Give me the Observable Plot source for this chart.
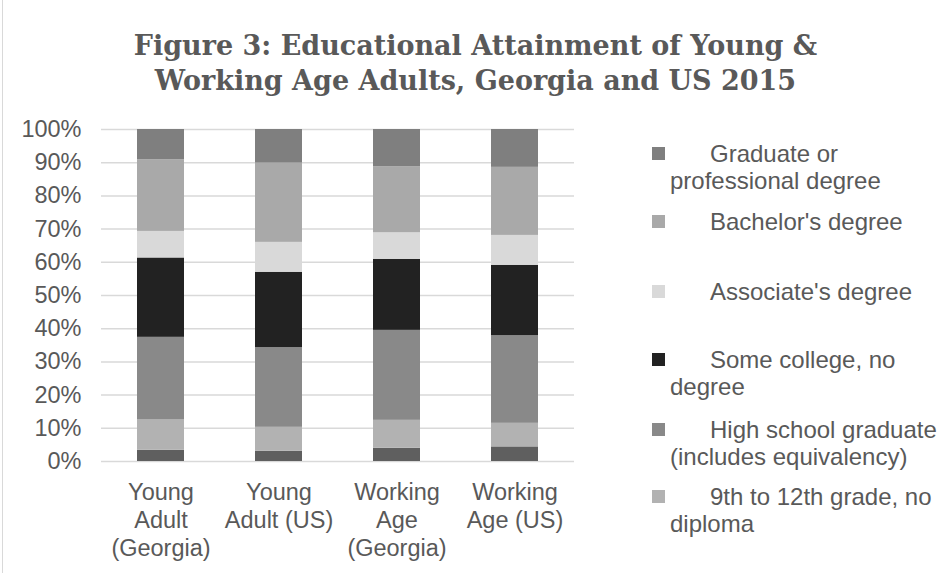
<!DOCTYPE html>
<html>
<head>
<meta charset="utf-8">
<script src="https://cdn.jsdelivr.net/npm/d3@7"></script>
<script src="https://cdn.jsdelivr.net/npm/@observablehq/plot@0.6"></script>
<style>
  html, body { margin: 0; padding: 0; background: #fff; }
  #wrap { position: relative; width: 951px; height: 573px; overflow: hidden; background: #fff;
          font-family: "Liberation Sans", Arial, sans-serif; }
  #border { position: absolute; left: 2px; top: 0; width: 1px; height: 573px; background: #d9d9d9; }
  #title { position: absolute; left: 0; width: 951px; top: 28px; text-align: center;
           font-family: "DejaVu Serif", serif; font-weight: bold; font-size: 27px; line-height: 35px;
           color: #595959; white-space: nowrap; }
  #chart { position: absolute; left: 0; top: 110px; }
  #legend { position: absolute; left: 652px; top: 0; width: 300px; font-size: 24px; color: #595959; }
  .item { position: absolute; left: 0; width: 300px; line-height: 27px; }
  .sw { position: absolute; left: 0; width: 13px; height: 13px; }
  .txt { padding-left: 18px; text-indent: 40px; white-space: nowrap; }
</style>
</head>
<body>
<div id="wrap">
  <div id="border"></div>
  <div id="title">Figure 3: Educational Attainment of Young &amp;<br>Working Age Adults, Georgia and US 2015</div>
  <div id="chart"></div>
  <div id="legend"></div>
</div>
<script>
const groups = ["Young Adult (Georgia)", "Young Adult (US)", "Working Age (Georgia)", "Working Age (US)"];
const groupLabels = ["Young\nAdult\n(Georgia)", "Young\nAdult (US)", "Working\nAge\n(Georgia)", "Working\nAge (US)"];
const levels = ["Less than 9th grade", "9th to 12th grade, no diploma", "High school graduate (includes equivalency)",
                "Some college, no degree", "Associate's degree", "Bachelor's degree", "Graduate or professional degree"];
const colors = ["#5f5f5f", "#b2b2b2", "#898989", "#222222", "#d9d9d9", "#a9a9a9", "#7f7f7f"];
const lessThan9th = [3.4, 3.1, 4.0, 4.4];
const grade9to12 = [9.1, 7.2, 8.4, 7.1];
const highSchool = [24.9, 24.0, 27.1, 26.4];
const someCollege = [23.9, 22.7, 21.4, 21.2];
const associate = [8.0, 9.0, 8.0, 9.0];
const bachelor = [21.6, 23.9, 19.9, 20.5];
const graduate = [9.1, 10.1, 11.2, 11.4];
const yTicks = [0, 10, 20, 30, 40, 50, 60, 70, 80, 90, 100];
const legendOrder = ["Graduate or professional degree", "Bachelor's degree", "Associate's degree",
                     "Some college, no degree", "High school graduate (includes equivalency)", "9th to 12th grade, no diploma"];

const series = [lessThan9th, grade9to12, highSchool, someCollege, associate, bachelor, graduate];
const rows = [];
levels.forEach((lv, i) => groups.forEach((g, j) => rows.push({group: g, level: lv, value: series[i][j]})));
const labelOf = new Map(groups.map((g, i) => [g, groupLabels[i]]));

const plot = Plot.plot({
  width: 620,
  height: 463,
  marginTop: 19,
  marginBottom: 112,
  marginLeft: 101,
  marginRight: 46,
  style: {fontFamily: "'Liberation Sans', Arial, sans-serif", fontSize: "24px", color: "#595959", background: "transparent"},
  x: {domain: groups, paddingInner: 0.6, paddingOuter: 0.3, label: null},
  y: {domain: [0, 100], label: null},
  color: {domain: levels, range: colors},
  marks: [
    Plot.gridY(yTicks, {stroke: "#d9d9d9", strokeOpacity: 1, strokeWidth: 1.5}),
    Plot.barY(rows, Plot.stackY({order: levels, x: "group", y: "value", fill: "level"})),
    Plot.axisY({ticks: yTicks, tickSize: 0, tickPadding: 20, tickFormat: d => d + "%", fill: "#595959", fontSize: 23.5}),
    Plot.axisX({tickSize: 0, tickPadding: 18, tickFormat: d => labelOf.get(d), lineHeight: 1.2, fill: "#595959", fontSize: 23.5})
  ]
});
document.getElementById("chart").appendChild(plot);

// legend
const legendTops = [140, 208, 278, 346, 416, 483];
const legendWraps = [
  ["Graduate or", "professional degree"],
  ["Bachelor's degree"],
  ["Associate's degree"],
  ["Some college, no", "degree"],
  ["High school graduate", "(includes equivalency)"],
  ["9th to 12th grade, no", "diploma"]
];
const leg = document.getElementById("legend");
legendOrder.forEach((lv, i) => {
  const it = document.createElement("div");
  it.className = "item";
  it.style.top = legendTops[i] + "px";
  const sw = document.createElement("div");
  sw.className = "sw";
  sw.style.top = "7px";
  sw.style.background = colors[levels.indexOf(lv)];
  it.appendChild(sw);
  const t = document.createElement("div");
  t.className = "txt";
  t.innerHTML = legendWraps[i].join("<br>");
  it.appendChild(t);
  leg.appendChild(it);
});
</script>
</body>
</html>
